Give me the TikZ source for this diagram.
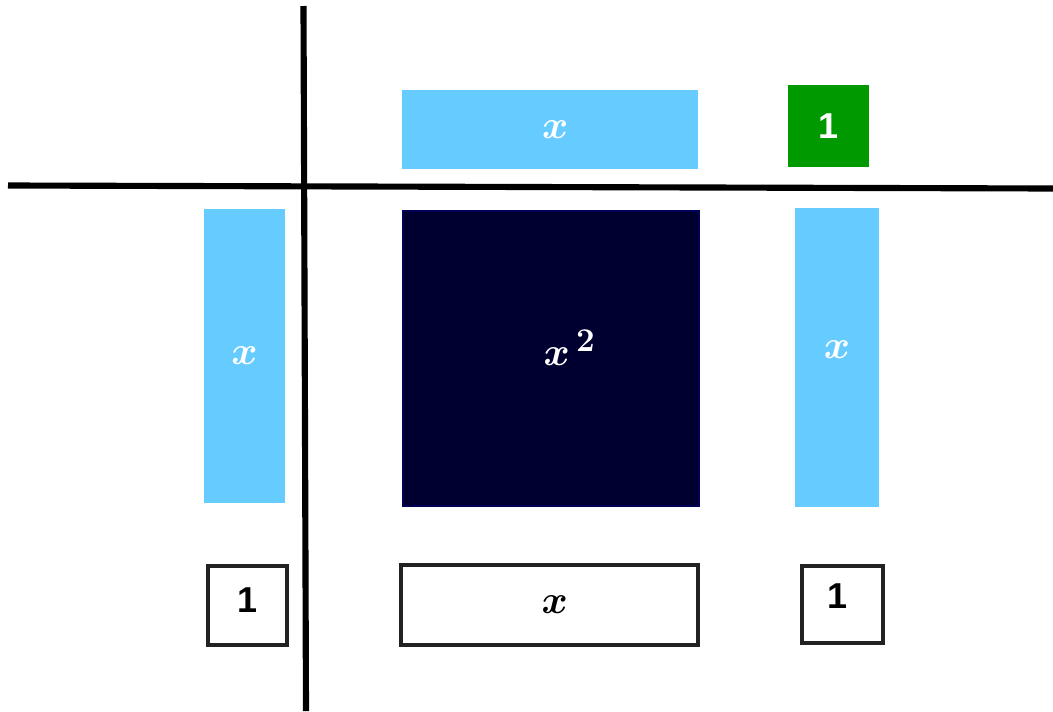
\documentclass[tikz,border=0pt]{standalone}
\usepackage{fontspec}
\newfontfamily\hv{Liberation Sans}
\usetikzlibrary{fit}
\definecolor{tileblue}{HTML}{66CCFF}
\definecolor{tiledark}{HTML}{000030}
\definecolor{tilegreen}{HTML}{009900}
\definecolor{edge}{HTML}{222222}
\tikzset{
  tile/.style={rectangle, inner sep=0pt, outer sep=0pt},
  xtile/.style={tile, fill=tileblue},
  sqtile/.style={tile, fill=tiledark, draw=tiledark!80!blue, line width=0.8pt},
  gtile/.style={tile, fill=tilegreen},
  otile/.style={tile, draw=edge, line width=2.8pt, fill=white},
  xlab/.style={inner sep=0pt, scale=1.2, font=\fontsize{24.88}{26}\selectfont\boldmath},
  onelab/.style={inner sep=0pt, font=\hv\bfseries\fontsize{27}{29}\selectfont},
  axis/.style={line width=4.6pt, black}
}
\begin{document}
\begin{tikzpicture}[x=0.75pt, y=-0.75pt]
\useasboundingbox (0,0) rectangle (1053,711);
% axes
\draw[axis] (303.5,6) -- (306,711);
\draw[axis] (8,185.5) -- (1053,188.5);
% top row
\node[xtile, fit={(402,90) (698,169)}] (topx) {};
\node[xlab, text=white] (topxl) at ([xshift=4]topx.center) {$x$};
\node[gtile, fit={(788,85) (869,167)}] (topone) {};
\node[onelab, text=white] (toponel) at (topone.center) {1};
% middle row
\node[xtile, fit={(204,209) (285,503)}] (leftx) {};
\node[xlab, text=white] (leftxl) at (leftx.center) {$x$};
\node[sqtile, fit={(403,211) (699,506)}] (sq) {};
\node[xlab, text=white] (sql) at ([xshift=14,yshift=8]sq.center) {$x^{\,2}$};
\node[xtile, fit={(795,208) (879,507)}] (rightx) {};
\node[xlab, text=white] (rightxl) at ([yshift=6]rightx.center) {$x$};
% bottom row
\node[otile, fit={(208,566) (287,645)}] (botleft) {};
\node[onelab] (botleftl) at ([yshift=4]botleft.center) {1};
\node[otile, fit={(401,565) (698,645)}] (botx) {};
\node[xlab] (botxl) at ([xshift=4]botx.center) {$x$};
\node[otile, fit={(802,566) (883,643)}] (botright) {};
\node[onelab] (botrightl) at ([xshift=-4,yshift=6]botright.center) {1};
\end{tikzpicture}
\end{document}
